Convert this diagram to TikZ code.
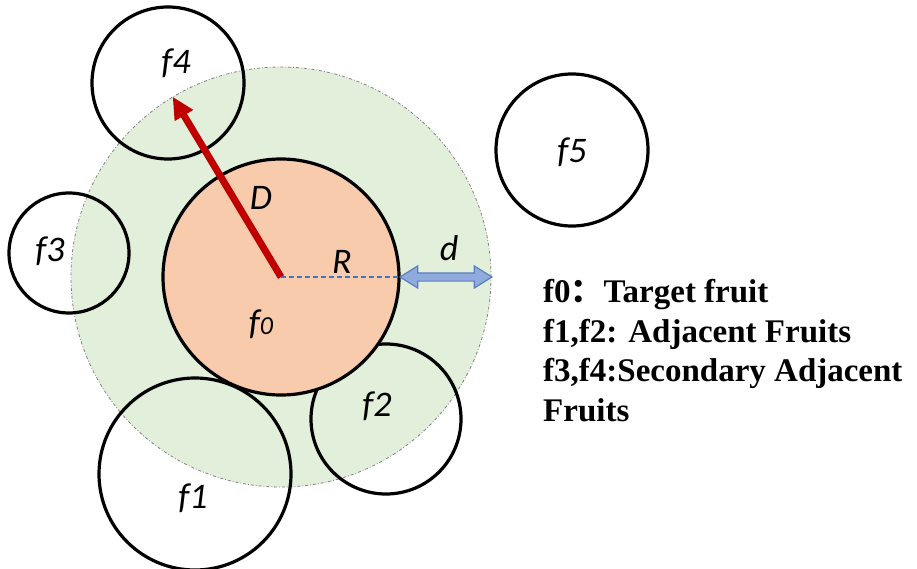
\documentclass[tikz,border=0pt]{standalone}
\usepackage{fontspec}
\usepackage{tikz}
\usetikzlibrary{positioning, arrows.meta, calc, shapes.arrows}
\newfontfamily\lblfont{Carlito}
\newfontfamily\legfont{Liberation Serif}
\newfontfamily\cjk{Noto Sans CJK SC}
\definecolor{zonegreen}{HTML}{E2EFDA}
\definecolor{fruitorange}{HTML}{F8CBAD}
\definecolor{arrowred}{HTML}{C00000}
\definecolor{lineblue}{HTML}{4472C4}
\definecolor{dblue}{HTML}{8FAADC}
\definecolor{dblueline}{HTML}{5B7EBD}

\begin{document}
\begin{tikzpicture}[x=1pt, y=-1pt,
    >={Triangle[length=22pt, width=20pt]}, % filled triangular tip of the D arrow
    fruit/.style={draw, circle, line width=3.2pt, inner sep=0pt},
    lbl/.style={font=\lblfont\itshape\fontsize{36}{36}\selectfont, inner sep=0pt},
    dblarrow/.style={double arrow, draw=dblueline, fill=dblue, line width=1.2pt,
        inner xsep=0pt, inner ysep=3.5pt, double arrow head extend=7pt,
        double arrow tip angle=64, minimum height=92pt}
]
\useasboundingbox (0,0) rectangle (917,569);

% 1. Neighbourhood zone (dash-dotted green disc)
\node[circle, fill=zonegreen, draw=gray, line width=0.8pt, dash dot,
      minimum size=420pt, inner sep=0pt] (zone) at (281,277) {};

% 2. Neighbouring fruits
\node[fruit, minimum size=192pt] (f1) at (195,474) {};
\node[fruit, minimum size=150pt] (f2) at (386,419) {};
\node[fruit, minimum size=120pt] (f3) at (69,253) {};
\node[fruit, minimum size=152pt] (f4) at (168,83) {};
\node[fruit, minimum size=152pt] (f5) at (572,150) {};

% 3. Target fruit
\node[fruit, fill=fruitorange, minimum size=236pt] (f0) at (281,277) {};

% 4. Radius R and distance d
\draw[lineblue, line width=1.5pt, dash pattern=on 5pt off 3pt] (f0.center) -- (f0.east);
\node[dblarrow] (darrow) at ($(f0.east)!0.5!(zone.east)$) {};

% 5. Search distance D
\draw[->, arrowred, line width=7pt] (f0.center) -- (zone.121.5);

% 6. Labels
\node[lbl] (lf0) at (261,324) {f\fontsize{26}{26}\selectfont 0};
\node[lbl] (lf1) at (193,498) {f1};
\node[lbl] (lf2) at (377,406) {f2};
\node[lbl] (lf3) at (50,251) {f3};
\node[lbl] (lf4) at (176,63) {f4};
\node[lbl] (lf5) at (572,152) {f5};
\node[lbl] (lD) at (261,198) {D};
\node[lbl] (lR) at (342,262) {R};
\node[lbl] (ld) at (449,248) {d};

% 7. Legend
\node[anchor=base west, align=left, inner sep=0pt,
      font=\legfont\bfseries\fontsize{33}{39.5}\selectfont] (legend) at (543,421)
    {f0{\cjk ：}Target fruit\\
     f1,f2: Adjacent Fruits\\
     f3,f4:Secondary Adjacent\\
     Fruits};

\end{tikzpicture}
\end{document}
